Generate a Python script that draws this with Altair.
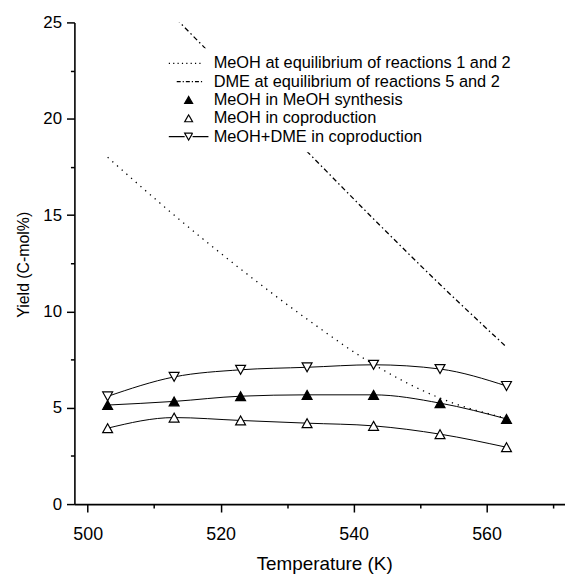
import altair as alt
import pandas as pd

# ---- data ----
temps = [503, 513, 523, 533, 543, 553, 563]
meoh_eq = [18.0, 15.0, 12.2, 9.6, 7.25, 5.5, 4.45]
dme_eq = [28.9, 25.3, 21.8, 18.3, 14.8, 11.4, 8.15]
meoh_synthesis = [5.14, 5.33, 5.6, 5.67, 5.67, 5.24, 4.42]
meoh_coprod = [3.94, 4.49, 4.34, 4.2, 4.06, 3.63, 2.95]
meoh_dme_coprod = [5.59, 6.6, 6.97, 7.1, 7.23, 7.01, 6.13]

series_names = [
    "MeOH at equilibrium of reactions 1 and 2",
    "DME at equilibrium of reactions 5 and 2",
    "MeOH in MeOH synthesis",
    "MeOH in coproduction",
    "MeOH+DME in coproduction",
]
x_ticks = [500, 510, 520, 530, 540, 550, 560, 570]
y_ticks = [0, 2.5, 5, 7.5, 10, 12.5, 15, 17.5, 20, 22.5, 25]

rows = []
for name, vals in zip(series_names, [meoh_eq, dme_eq, meoh_synthesis, meoh_coprod, meoh_dme_coprod]):
    for t, v in zip(temps, vals):
        rows.append({"T": t, "Y": v, "series": name})
df = pd.DataFrame(rows)

UP = "M0,-0.9L1,0.9L-1,0.9Z"
DOWN = "M-1,-0.9L1,-0.9L0,0.9Z"

FONT = "Liberation Sans"

x_enc = alt.X(
    "T:Q",
    scale=alt.Scale(domain=[498, 571.8], nice=False, zero=False),
    axis=alt.Axis(
        values=x_ticks,
        labelExpr="datum.value % 20 === 0 ? datum.label : ''",
        tickSize={"condition": {"test": "datum.value % 20 === 0", "value": 8}, "value": 4},
        title="Temperature (K)",
        titleX=252,
        titleY=66,
        titleBaseline="alphabetic",
        labelFontSize=18,
        labelPadding=14,
        titleFontSize=19,
    ),
)
y_enc = alt.Y(
    "Y:Q",
    scale=alt.Scale(domain=[0, 25], nice=False),
    axis=alt.Axis(
        values=y_ticks,
        labelExpr="datum.value % 5 === 0 ? datum.label : ''",
        tickSize={"condition": {"test": "datum.value % 5 === 0", "value": 8}, "value": 4},
        title="Yield (C-mol%)",
        titleX=-46,
        titleY=244,
        titleBaseline="alphabetic",
        titleAngle=270,
        labelFontSize=17,
        labelPadding=5,
        titleFontSize=16,
    ),
)

base = alt.Chart(df).encode(x=x_enc, y=y_enc)

line_eq_meoh = base.transform_filter(alt.datum.series == series_names[0]).mark_line(
    color="black", strokeDash=[1.3, 5], strokeWidth=1.3, interpolate="monotone", clip=True
)
line_eq_dme = base.transform_filter(alt.datum.series == series_names[1]).mark_line(
    color="black", strokeDash=[5, 3, 1.5, 3], strokeWidth=1.3, interpolate="monotone", clip=True
)
meas = base.transform_filter(
    alt.FieldOneOfPredicate(field="series", oneOf=series_names[2:])
)
lines_meas = meas.mark_line(color="black", strokeWidth=1, interpolate="monotone").encode(
    detail="series:N"
)
pts_syn = base.transform_filter(alt.datum.series == series_names[2]).mark_point(
    shape=UP, filled=True, fill="black", stroke="black", strokeWidth=1.2, size=100, opacity=1
)
pts_cop = base.transform_filter(alt.datum.series == series_names[3]).mark_point(
    shape=UP, filled=True, fill="white", stroke="black", strokeWidth=1.2, size=100, opacity=1
)
pts_tot = base.transform_filter(alt.datum.series == series_names[4]).mark_point(
    shape=DOWN, filled=True, fill="white", stroke="black", strokeWidth=1.2, size=100, opacity=1
)

leg = alt.Legend(
    title=None,
    orient="none",
    legendX=100,
    legendY=26,
    fillColor="white",
    padding=7,
    labelFont=FONT,
    labelFontSize=16.5,
    labelLimit=0,
    labelOffset=17,
    rowPadding=1.5,
    symbolSize=100,
    symbolStrokeColor="black",
    symbolStrokeWidth=1.2,
    symbolOpacity=1,
)
legend_layer = base.transform_filter("false").mark_point(
    filled=False, strokeWidth=1.2, opacity=1
).encode(
    shape=alt.Shape(
        "series:N",
        scale=alt.Scale(
            domain=series_names,
            range=[
                "M-4,0H2.6",
                "M-2.4,0H3",
                "M0,-0.7L0.8,0.7L-0.8,0.7Z",
                "M0,-0.7L0.8,0.7L-0.8,0.7Z",
                "M-4,0H-0.8M0.8,0H4M-0.8,-0.7L0.8,-0.7L0,0.7Z",
            ],
        ),
        legend=leg,
    ),
    fill=alt.Fill(
        "series:N",
        scale=alt.Scale(domain=series_names, range=["transparent", "transparent", "black", "white", "white"]),
        legend=leg,
    ),
    stroke=alt.Stroke(
        "series:N",
        scale=alt.Scale(domain=series_names, range=["black", "black", "black", "black", "black"]),
        legend=leg,
    ),
    strokeDash=alt.StrokeDash(
        "series:N",
        scale=alt.Scale(domain=series_names, range=[[1.2, 3.2], [4, 2, 1.2, 2], [1, 0], [1, 0], [1, 0]]),
        legend=leg,
    ),
)

chart = (
    alt.layer(line_eq_meoh, line_eq_dme, lines_meas, pts_syn, pts_cop, pts_tot, legend_layer)
    .properties(
        width=495,
        height=486,
        padding={"left": 67, "top": 12, "right": 0, "bottom": 68},
        autosize=alt.AutoSizeParams(type="none"),
    )
    .configure_view(stroke=None)
    .configure_axis(
        grid=False,
        domainColor="black",
        domainWidth=1.6,
        tickColor="black",
        tickWidth=1.5,
        labelColor="black",
        titleColor="black",
        labelFont=FONT,
        titleFont=FONT,
        titleFontWeight="normal",
    )
)

chart.save("out.html", embed_options={"renderer": "svg", "actions": False})
